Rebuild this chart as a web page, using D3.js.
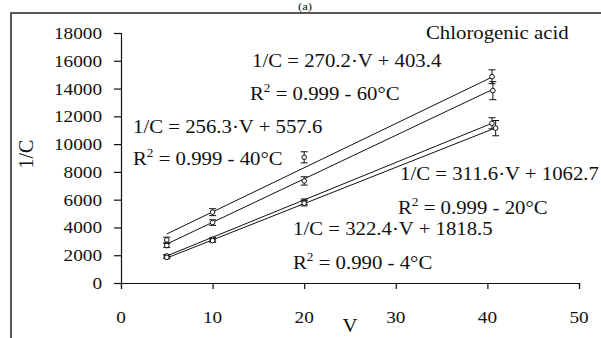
<!DOCTYPE html>
<html lang="en">
<head>
  <meta charset="UTF-8">
  <title>Chlorogenic acid 1/C vs V</title>
  <style>
    body { margin: 0; padding: 0; background: #fff; }
    svg { display: block; font-family: "Liberation Serif", "Times New Roman", serif; }
  </style>
</head>
<body>
  <div id="chart"></div>
  <script src="https://d3js.org/d3.v7.min.js"></script>
  <script>
    // data
    const series = ["60°C", "40°C", "20°C", "4°C"];
    const xVals = [
      [5, 10, 20, 40.5],
      [5, 10, 20, 40.6],
      [5, 10, 20, 40.5],
      [5, 10, 20, 40.9]
    ];
    const yVals = [
      [3100, 5100, 9050, 14850],
      [2700, 4350, 7350, 13850],
      [1950, 3150, 5850, 11500],
      [1850, 3050, 5750, 11150]
    ];
    const yErr = [
      [200, 250, 400, 500],
      [150, 200, 300, 650],
      [100, 120, 200, 400],
      [100, 120, 200, 550]
    ];
    // trend lines as drawn (slope, intercept)
    const fitSlope = [318, 313, 269, 261];
    const fitIntercept = [1940, 1240, 605, 495];

    const xTicks = [0, 10, 20, 30, 40, 50];
    const yTicks = [0, 2000, 4000, 6000, 8000, 10000, 12000, 14000, 16000, 18000];

    const eqLabels = [
      "1/C = 270.2·V + 403.4",
      "1/C = 256.3·V + 557.6",
      "1/C = 311.6·V + 1062.7",
      "1/C = 322.4·V + 1818.5"
    ];
    const r2Labels = ["0.999 - 60°C", "0.999 - 40°C", "0.999 - 20°C", "0.990 - 4°C"];

    const W = 601, H = 338;
    // text in the original looks stretched sideways
    const tickSize = 17.5, tickSx = 1.1;
    const noteSize = 18, noteSx = 1.155;
    const margin = { left: 121, right: 22, top: 33, bottom: 55 };

    const svg = d3.select("#chart").append("svg")
      .attr("width", W).attr("height", H);

    // outer frame (only top and left visible)
    svg.append("rect")
      .attr("x", 11).attr("y", 13)
      .attr("width", 800).attr("height", 500)
      .attr("fill", "none").attr("stroke", "#222").attr("stroke-width", 1.5);

    const x = d3.scaleLinear().domain([0, 50]).range([margin.left, W - margin.right]);
    const y = d3.scaleLinear().domain([0, 18000]).range([H - margin.bottom, margin.top]);

    // helper for stretched text
    function label(px, py, size, anchor, s) {
      const g = svg.append("g").attr("transform", `translate(${px},${py}) scale(${s || noteSx},1)`);
      return g.append("text")
        .attr("x", 0).attr("y", 0)
        .attr("font-size", size)
        .attr("text-anchor", anchor || "start")
        .attr("fill", "#111");
    }

    // axes
    const xAxis = svg.append("g")
      .attr("transform", `translate(0,${y(0)})`)
      .call(d3.axisBottom(x).tickValues(xTicks).tickSize(6).tickFormat(""));
    const yAxis = svg.append("g")
      .attr("transform", `translate(${x(0)},0)`)
      .call(d3.axisLeft(y).tickValues(yTicks).tickSize(7).tickFormat(""));
    [xAxis, yAxis].forEach(a => {
      a.selectAll("path, line").attr("stroke", "#111").attr("stroke-width", 1.2);
    });

    xTicks.forEach(t => label(x(t), 323, tickSize, "middle", tickSx).text(t));
    yTicks.forEach(t => label(102, y(t) + 6, tickSize, "end", tickSx).text(t));

    // axis titles
    label(350, 332, noteSize, "middle").text("V");
    svg.append("text")
      .attr("transform", "translate(33,154) rotate(-90)")
      .attr("text-anchor", "middle")
      .attr("font-size", 20)
      .attr("fill", "#111")
      .text("1/C");

    // panel label above the frame
    label(305, 10, 11, "middle").text("(a)");

    // trend lines
    series.forEach((s, i) => {
      const xs = xVals[i];
      const ends = [xs[0], xs[xs.length - 1]];
      svg.append("path")
        .datum(ends)
        .attr("fill", "none")
        .attr("stroke", "#111")
        .attr("stroke-width", 1)
        .attr("d", d3.line()
          .x(d => x(d))
          .y(d => y(fitSlope[i] * d + fitIntercept[i])));
    });

    // error bars and markers
    series.forEach((s, i) => {
      const pts = xVals[i].map((xv, j) => ({ x: xv, y: yVals[i][j], e: yErr[i][j] }));
      const g = svg.append("g").attr("stroke", "#111").attr("stroke-width", 1);
      pts.forEach(p => {
        const cx = x(p.x);
        g.append("line").attr("x1", cx).attr("x2", cx)
          .attr("y1", y(p.y - p.e)).attr("y2", y(p.y + p.e));
        [p.y - p.e, p.y + p.e].forEach(v => {
          g.append("line").attr("x1", cx - 3.5).attr("x2", cx + 3.5)
            .attr("y1", y(v)).attr("y2", y(v));
        });
        g.append("circle").attr("cx", cx).attr("cy", y(p.y))
          .attr("r", 2.3).attr("fill", "#fff");
      });
    });

    // annotations
    function r2(px, py, txt) {
      const t = label(px, py, noteSize, "start");
      t.append("tspan").text("R");
      t.append("tspan").attr("dy", -8).attr("font-size", 11.5).text("2");
      t.append("tspan").attr("dy", 8).text(" = " + txt);
    }
    label(426, 39, noteSize, "start").text("Chlorogenic acid");

    label(252, 67, noteSize, "start").text(eqLabels[0]);
    r2(250, 100, r2Labels[0]);
    label(133, 133, noteSize, "start").text(eqLabels[1]);
    r2(133, 165, r2Labels[1]);
    label(400, 180, noteSize, "start").text(eqLabels[2]);
    r2(398, 214, r2Labels[2]);
    label(293, 235, noteSize, "start").text(eqLabels[3]);
    r2(293, 269, r2Labels[3]);
  </script>
</body>
</html>
